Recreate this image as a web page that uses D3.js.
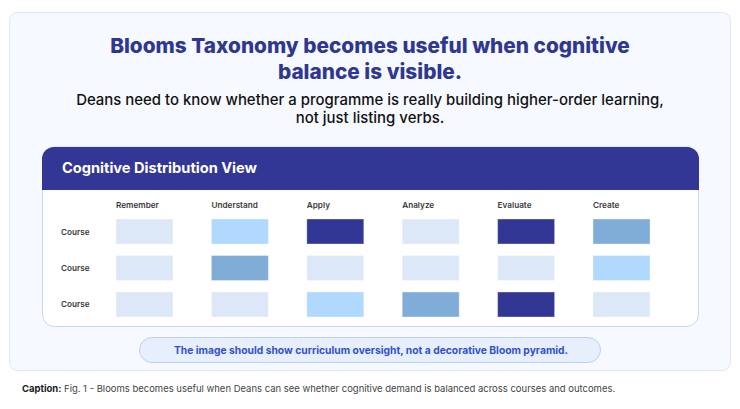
<!DOCTYPE html>
<html>
<head>
<meta charset="utf-8">
<script src="https://cdn.jsdelivr.net/npm/d3@7"></script>
<style>
  html, body { margin: 0; padding: 0; background: #ffffff; }
  svg { display: block; }
  text { font-family: Inter, "Open Sans", sans-serif; }
</style>
</head>
<body>
<svg id="chart" width="740" height="409"></svg>
<script>
// ---- data ----
const titleLines = ["Blooms Taxonomy becomes useful when cognitive", "balance is visible."];
const subtitleLines = ["Deans need to know whether a programme is really building higher-order learning,", "not just listing verbs."];
const panelTitle = "Cognitive Distribution View";
const stages = ["Remember", "Understand", "Apply", "Analyze", "Evaluate", "Create"];
const courses = ["Course", "Course", "Course"];
const course1 = [0, 1, 3, 0, 3, 2];
const course2 = [0, 2, 0, 0, 0, 1];
const course3 = [0, 0, 1, 2, 3, 0];
const levels = [0, 1, 2, 3];
const levelColors = ["#dce8f8", "#b1d8fd", "#80acd8", "#323795"];
const noteText = "The image should show curriculum oversight, not a decorative Bloom pyramid.";
const captionLabel = "Caption:";
const captionText = " Fig. 1 - Blooms becomes useful when Deans can see whether cognitive demand is balanced across courses and outcomes.";

const rows = [course1, course2, course3];

const svg = d3.select("#chart");

function fitSize(sel, target) {
  const fs = parseFloat(sel.attr("font-size"));
  const w = sel.node().getComputedTextLength();
  return w > 0 ? fs * target / w : fs;
}
function fit(sel, target) {
  sel.attr("font-size", fitSize(sel, target).toFixed(2));
  return sel;
}

// outer card
svg.append("rect")
  .attr("x", 9.5).attr("y", 12.5).attr("width", 721).attr("height", 358)
  .attr("rx", 8).attr("fill", "#f6f9ff").attr("stroke", "#dfe7f7").attr("stroke-width", 1);

// title
const titleBase = [53, 79];
const titleSel = titleLines.map((t, i) => svg.append("text")
    .attr("x", 370).attr("y", titleBase[i])
    .attr("text-anchor", "middle")
    .attr("font-size", 19).attr("font-weight", 800)
    .attr("fill", "#2f3790").text(t));
const tfs = fitSize(titleSel[0], 520);
titleSel.forEach(s => s.attr("font-size", tfs.toFixed(2)));

// subtitle
const subBase = [105, 123];
const subSel = subtitleLines.map((t, i) => svg.append("text")
    .attr("x", 370).attr("y", subBase[i])
    .attr("text-anchor", "middle")
    .attr("font-size", 14).attr("font-weight", 500)
    .attr("fill", "#111111").text(t));
const sfs = fitSize(subSel[0], 588);
subSel.forEach(s => s.attr("font-size", sfs.toFixed(2)));

// inner card
const cx0 = 42.5, cx1 = 698.5, cy0 = 147, cy1 = 326.5, r = 12, hb = 190;
svg.append("rect")
  .attr("x", cx0).attr("y", cy0).attr("width", cx1 - cx0).attr("height", cy1 - cy0)
  .attr("rx", r).attr("fill", "#ffffff").attr("stroke", "#c8d7f4").attr("stroke-width", 1);
const hp = d3.path();
hp.moveTo(cx0 - 0.5, hb);
hp.lineTo(cx0 - 0.5, cy0 + r);
hp.arcTo(cx0 - 0.5, cy0, cx0 - 0.5 + r, cy0, r);
hp.lineTo(cx1 + 0.5 - r, cy0);
hp.arcTo(cx1 + 0.5, cy0, cx1 + 0.5, cy0 + r, r);
hp.lineTo(cx1 + 0.5, hb);
hp.closePath();
svg.append("path").attr("d", hp.toString()).attr("fill", "#323795");
const pt = svg.append("text")
  .attr("x", 62).attr("y", 173)
  .attr("font-size", 14).attr("font-weight", 700)
  .attr("fill", "#ffffff").text(panelTitle);
fit(pt, 195);

// scales
const x = d3.scaleBand().domain(stages).range([116, 650]).paddingInner(0.4025).paddingOuter(0);
const y = d3.scaleBand().domain(d3.range(courses.length)).range([219, 317]).paddingInner(0.315).paddingOuter(0);
const color = d3.scaleOrdinal().domain(levels).range(levelColors);

// column headers
svg.append("g").selectAll("text").data(stages).join("text")
  .attr("x", d => x(d))
  .attr("y", 208)
  .attr("font-size", 8.2).attr("font-weight", 600)
  .attr("fill", "#3a3a3a")
  .text(d => d);

// row labels
svg.append("g").selectAll("text").data(courses).join("text")
  .attr("x", 61)
  .attr("y", (d, i) => y(i) + y.bandwidth() / 2 + 3)
  .attr("font-size", 8.2).attr("font-weight", 600)
  .attr("fill", "#3a3a3a")
  .text(d => d);

// cells
const cells = [];
rows.forEach((row, ri) => row.forEach((v, ci) => cells.push({ r: ri, stage: stages[ci], v })));
svg.append("g").selectAll("rect").data(cells).join("rect")
  .attr("x", d => x(d.stage))
  .attr("y", d => y(d.r))
  .attr("width", x.bandwidth())
  .attr("height", y.bandwidth())
  .attr("fill", d => color(d.v))
  .attr("stroke", "#ffffff").attr("stroke-opacity", 0.35).attr("stroke-width", 1);

// note pill
svg.append("rect")
  .attr("x", 139.5).attr("y", 337.5).attr("width", 461).attr("height", 25)
  .attr("rx", 12.5).attr("fill", "#e7effd").attr("stroke", "#bcd0f6").attr("stroke-width", 1);
const nt = svg.append("text")
  .attr("x", 371).attr("y", 354)
  .attr("text-anchor", "middle")
  .attr("font-size", 11).attr("font-weight", 700)
  .attr("fill", "#3150d0").text(noteText);
fit(nt, 394);

// caption
const cap = svg.append("text")
  .attr("x", 22).attr("y", 392)
  .attr("font-size", 8.5).attr("fill", "#444444");
cap.append("tspan").attr("font-weight", 700).attr("fill", "#1a1a1a").text(captionLabel);
cap.append("tspan").attr("font-weight", 400).text(captionText);
fit(cap, 594);
</script>
</body>
</html>
